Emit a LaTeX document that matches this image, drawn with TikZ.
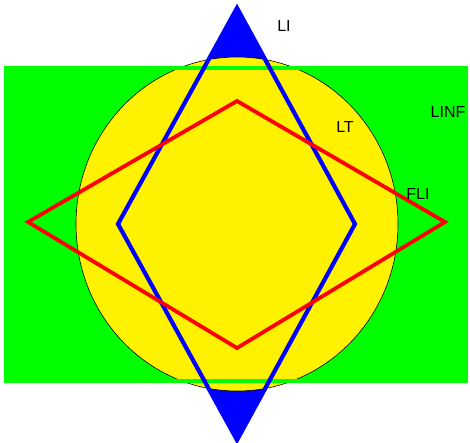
\documentclass[tikz,border=0pt]{standalone}
\usepackage{fontspec}
\setmainfont{Liberation Sans}
\begin{document}
\begin{tikzpicture}[x=1pt,y=-1pt,
  lbl/.style={font=\fontsize{16}{18}\selectfont, inner sep=0pt},
  rectline/.style={draw=green, line width=4pt},
  bluediam/.style={draw=blue, line width=4.2pt, line join=miter},
  reddiam/.style={draw=red, line width=3.8pt, line join=miter}]
\useasboundingbox (0,0) rectangle (470,442);
% blue diamond fill
\fill[blue] (237,8) -- (355,224) -- (237,440) -- (118,224) -- cycle;
% green rectangle fill
\fill[green] (6,68) rectangle (466,381);
% yellow ellipse
\filldraw[fill=yellow, draw=black, line width=0.6pt] (237,224) ellipse [x radius=161, y radius=167];
% rectangle outline over the ellipse
\draw[rectline] (6,68) rectangle (466,381);
% diamonds
\draw[bluediam] (237,8) -- (355,224) -- (237,440) -- (118,224) -- cycle;
\draw[reddiam] (237,101) -- (445,222) -- (237,348) -- (28,222) -- cycle;
% labels
\node[lbl] (li) at (284,26) {LI};
\node[lbl] (lt) at (345,127) {LT};
\node[lbl] (linf) at (448,112) {LINF};
\node[lbl] (fli) at (418,194) {FLI};
\end{tikzpicture}
\end{document}
